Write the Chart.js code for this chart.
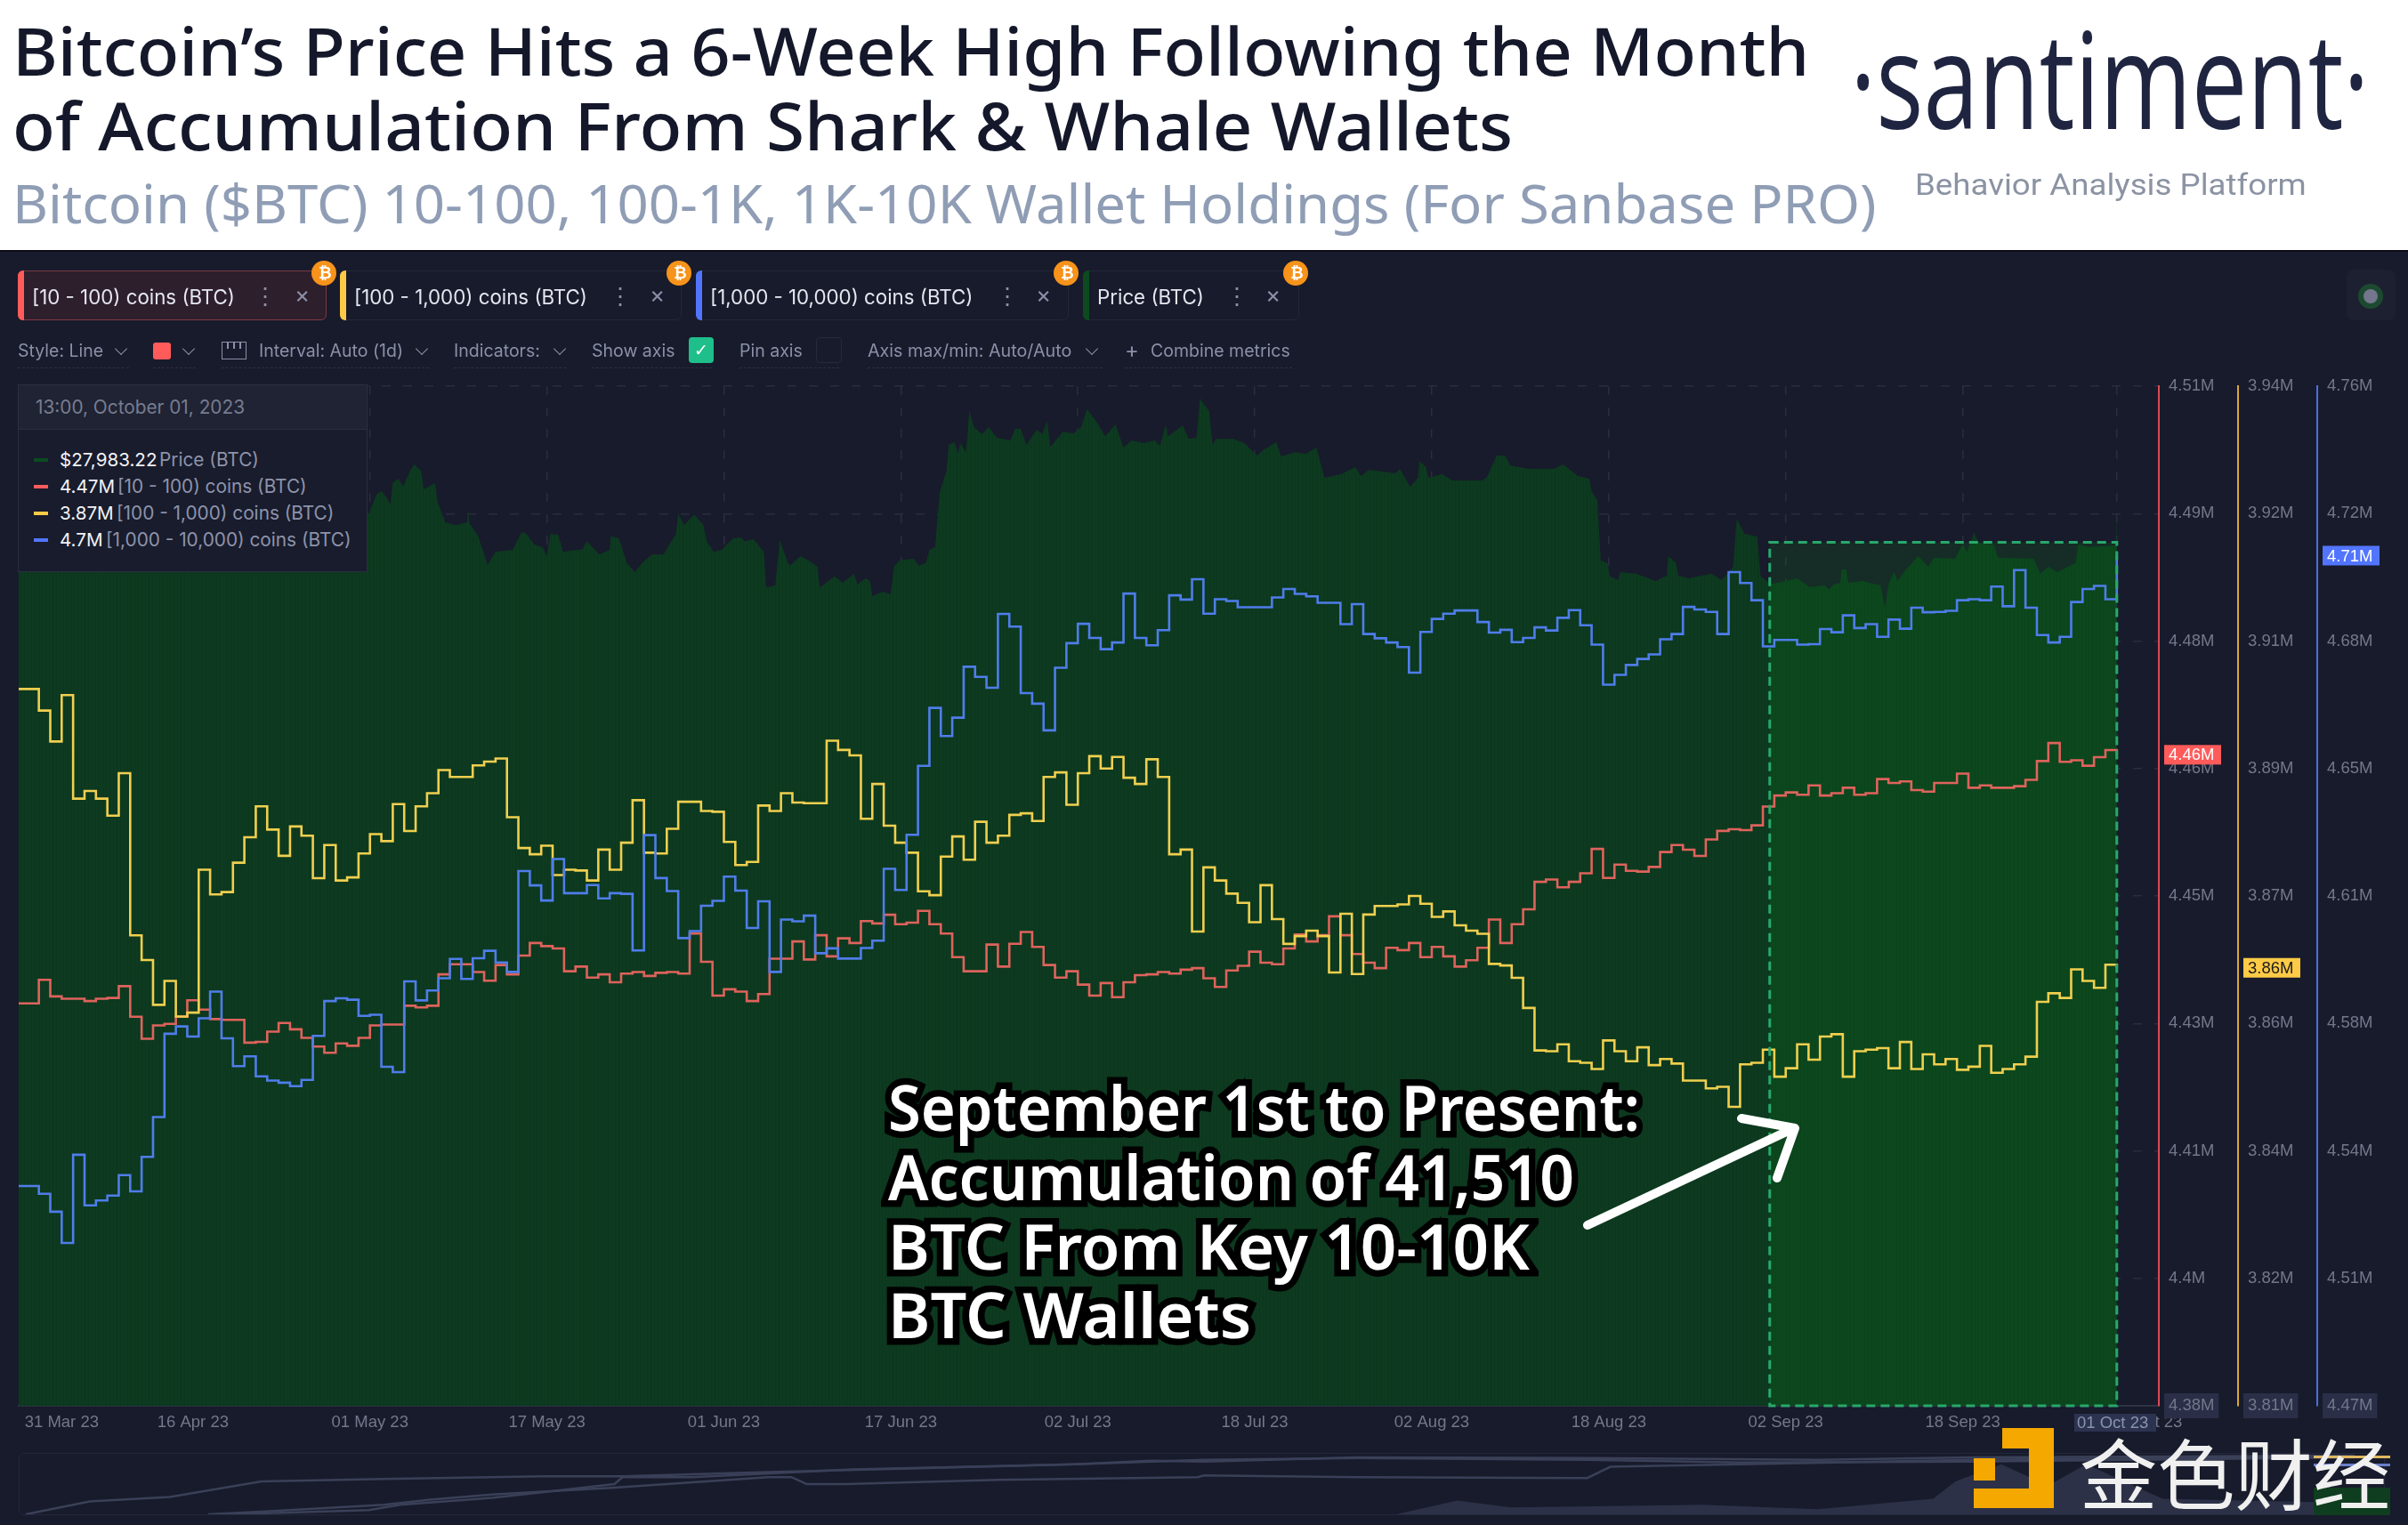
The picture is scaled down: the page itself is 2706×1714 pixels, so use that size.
<!DOCTYPE html>
<html>
<head>
<meta charset="utf-8">
<title>Bitcoin wallet holdings</title>
<script src="https://cdn.jsdelivr.net/npm/chart.js@4/dist/chart.umd.min.js"></script>
<style>
  html, body { margin: 0; padding: 0; background: #fff; }
  #page { position: relative; width: 2706px; height: 1714px; overflow: hidden; background: #fff; }
  #dark { position: absolute; left: 0; top: 281px; width: 2706px; height: 1433px; background: #181b2b; border-top: 2px solid #0c0d14; box-sizing: border-box; }
  #main { position: absolute; left: 0; top: 0; z-index: 1; }
  #miniBox { position: absolute; left: 21px; top: 1633px; width: 2659px; height: 70px; border: 1px solid #23273a; border-radius: 6px; box-sizing: border-box; z-index: 1; }
  .t { position: absolute; white-space: nowrap; z-index: 3; font-family: Inter, sans-serif; transform-origin: left center; line-height: 1; }
  .box { position: absolute; z-index: 2; box-sizing: border-box; }
  svg { position: absolute; left: 0; top: 0; z-index: 4; }
</style>
</head>
<body>
<div id="page">
  <div id="dark"></div>
  <canvas id="main" width="2706" height="1714"></canvas>
  <div id="miniBox"><canvas id="mini" width="2657" height="68"></canvas></div>
  <svg width="2706" height="1714">
    <path d="M1784 1377 L2016 1268 M1957 1257 L2017 1268 L1997 1324" fill="none" stroke="#fff" stroke-width="10" stroke-linecap="round" stroke-linejoin="round"/>
  </svg>
</div>
<script>
// holdings in thousands of coins, one value per day from 31 Mar 23 to 01 Oct 23
const red = [
  4431.3,4431.3,4434.3,4432.2,4431.9,4431.9,4431.6,4431.9,4432.0,4433.5,
  4429.6,4426.8,4428.5,4428.7,4429.6,4431.7,4430.5,4429.3,4429.2,4429.2,
  4426.3,4426.4,4427.7,4428.8,4428.0,4426.9,4425.8,4425.0,4426.2,4425.9,
  4426.9,4428.5,4428.6,4428.6,4431.0,4430.8,4431.0,4435.0,4436.3,4436.3,
  4435.3,4434.2,4436.2,4435.0,4437.4,4439.0,4438.6,4438.3,4435.4,4436.0,
  4434.6,4435.0,4434.0,4435.1,4435.3,4434.8,4435.2,4435.3,4435.1,4440.2,
  4436.6,4432.3,4433.1,4432.8,4431.6,4432.5,4437.0,4437.0,4439.2,
  4436.9,4440.0,4437.3,4439.6,4439.0,4441.8,4441.5,4442.6,4441.4,4441.6,
  4443.1,4441.4,4440.2,4437.2,4435.4,4435.4,4438.8,4436.0,4438.9,4440.4,
  4438.5,4436.2,4434.6,4435.4,4433.7,4432.3,4433.9,4432.1,4434.0,4434.9,
  4435.0,4435.3,4435.1,4435.6,4435.8,4434.5,4433.4,4435.5,4436.1,4437.9,
  4436.5,4436.3,4438.3,4440.1,4439.2,4440.0,4442.4,4440.0,4437.6,4436.5,
  4435.8,4438.4,4438.1,4439.0,4437.2,4438.5,4437.3,4436.0,4436.8,4438.4,
  4442.0,4439.0,4441.4,4443.3,4446.8,4447.1,4446.1,4446.8,4447.9,4451.0,
  4447.3,4449.0,4448.2,4448.1,4448.7,4450.6,4451.5,4450.9,4450.1,4452.2,
  4453.3,4453.5,4453.4,4454.0,4456.4,4457.8,4458.2,4457.9,4459.1,4457.8,
  4458.1,4458.8,4457.9,4458.1,4459.9,4459.4,4459.6,4458.5,4458.3,4459.4,
  4459.4,4460.6,4458.8,4459.1,4458.8,4458.8,4459.0,4459.8,4462.2,4464.5,
  4462.1,4462.3,4461.6,4462.7,4463.6,4463.0
];
const yellow = [
  3900.8,3900.8,3898.0,3894.0,3900.0,3886.6,3887.6,3886.6,3884.4,3889.9,
  3868.9,3865.7,3859.9,3863.0,3858.4,3858.9,3877.4,3874.2,3874.5,3878.3,
  3881.6,3885.6,3882.6,3879.2,3883.0,3881.8,3876.3,3880.6,3876.0,3876.4,
  3879.5,3882.0,3881.1,3885.9,3882.4,3885.6,3887.3,3890.3,3889.4,3889.4,
  3890.9,3891.4,3891.8,3884.2,3880.2,3879.4,3880.5,3876.7,3877.4,3877.3,
  3876.0,3880.0,3877.4,3880.9,3886.4,3879.6,3879.5,3882.7,3886.2,3886.2,
  3885.0,3884.9,3881.0,3878.0,3878.4,3885.7,3885.0,3887.3,3886.1,
  3886.0,3886.0,3894.1,3892.9,3892.2,3884.0,3888.5,3883.1,3880.9,3879.6,
  3874.6,3874.1,3879.1,3881.7,3878.7,3883.6,3880.9,3881.8,3884.5,3884.7,
  3883.7,3889.4,3890.0,3885.8,3889.9,3892.1,3890.5,3892.0,3889.3,3888.5,
  3891.7,3889.4,3879.4,3880.0,3869.4,3877.7,3876.0,3874.3,3873.1,3870.6,
  3875.4,3871.0,3867.8,3868.8,3869.5,3868.8,3864.1,3871.7,3863.9,3871.6,
  3872.7,3872.7,3872.9,3874.0,3873.0,3871.3,3872.0,3870.2,3869.5,3869.1,
  3865.2,3865.0,3863.4,3859.5,3854.0,3853.9,3854.8,3852.6,3852.4,3851.6,
  3855.3,3853.9,3852.6,3854.4,3852.1,3852.9,3852.3,3850.1,3850.1,3849.1,
  3849.3,3846.7,3852.2,3852.4,3854.1,3850.6,3851.7,3854.8,3852.8,3855.8,
  3856.1,3850.6,3853.9,3854.1,3854.3,3851.7,3855.1,3851.6,3853.5,3852.2,
  3852.9,3851.5,3851.9,3854.6,3851.1,3851.6,3852.2,3853.2,3860.3,3861.4,
  3860.8,3864.5,3863.0,3862.1,3865.1,3864.7
];
const blue = [
  4532.5,4532.5,4530.3,4525.2,4516.3,4541.4,4527.0,4528.4,4529.8,4535.6,
  4531.0,4540.8,4552.1,4575.8,4577.9,4575.0,4580.2,4587.8,4574.5,4566.6,
  4569.4,4563.7,4562.5,4561.9,4560.9,4562.7,4575.2,4585.1,4585.9,4585.5,
  4580.9,4581.2,4566.4,4564.9,4590.7,4585.3,4588.1,4591.6,4597.1,4591.4,
  4597.3,4599.4,4596.1,4593.4,4622.1,4618.0,4613.7,4625.5,4615.8,4615.8,
  4618.1,4614.3,4615.8,4615.6,4599.5,4632.3,4620.1,4616.4,4603.0,4605.0,
  4612.2,4613.6,4620.5,4616.5,4605.9,4613.5,4593.4,4608.3,4607.8,
  4609.4,4598.7,4600.1,4597.2,4597.2,4600.2,4602.3,4622.7,4616.7,4632.4,
  4652.0,4668.5,4660.5,4665.7,4680.2,4677.3,4674.2,4695.2,4691.6,4672.7,
  4669.7,4662.1,4679.9,4686.9,4692.4,4688.4,4685.2,4687.1,4701.0,4688.4,
  4686.3,4690.6,4700.5,4699.3,4705.1,4695.3,4699.4,4698.9,4697.1,4697.1,
  4697.1,4699.9,4702.3,4700.9,4700.2,4698.4,4698.4,4692.3,4698.0,4689.5,
  4688.3,4687.1,4685.8,4678.5,4690.1,4693.8,4695.3,4696.2,4696.2,4692.9,
  4689.9,4690.7,4687.2,4688.4,4691.4,4690.5,4694.1,4696.3,4692.0,4686.5,
  4675.1,4677.9,4680.7,4682.4,4683.7,4688.0,4689.5,4697.2,4696.5,4695.8,
  4689.5,4707.1,4704.0,4699.1,4686.0,4687.8,4687.8,4686.5,4686.6,4690.9,
  4690.0,4694.8,4691.2,4692.3,4688.7,4693.6,4691.0,4697.0,4695.7,4695.8,
  4696.1,4699.1,4699.4,4699.1,4703.0,4697.4,4707.7,4697.0,4689.2,4687.1,
  4688.7,4698.6,4702.3,4703.2,4699.4,4711.8
];

// price outline, day number since 31 Mar 23 and dollars
const priceDays = [
  0.2,14.2,29.8,30.9,31.6,32.0,32.4,32.8,33.0,33.5,33.9,34.6,34.9,35.5,35.7,36.7,36.9,37.6,38.5,39.5,
  39.6,39.7,40.5,41.3,42.0,43.5,44.3,44.7,45.4,46.1,46.5,46.8,47.5,47.9,49.6,50.0,51.1,52.0,52.1,52.8,
  53.5,54.2,54.9,55.7,56.7,57.8,58.0,58.5,59.4,60.2,60.5,61.1,61.8,62.8,63.5,63.8,64.6,65.5,65.7,66.5,
  66.9,67.6,67.8,68.7,69.4,70.2,70.4,71.7,72.4,73.4,73.7,74.4,74.8,75.0,75.9,76.6,76.9,77.4,78.6,79.1,
  79.7,80.0,80.5,80.9,81.5,81.7,82.2,82.5,82.7,83.2,83.5,83.9,84.6,85.2,85.9,87.1,87.5,88.0,88.5,89.4,
  89.9,90.3,90.6,91.7,92.6,93.3,93.8,94.7,95.4,96.3,97.0,97.7,98.8,99.7,100.2,100.7,100.9,102.2,102.7,103.4,
  103.7,103.8,104.5,104.8,105.1,106.6,107.6,108.7,109.3,110.4,110.8,112.0,113.0,113.9,114.6,116.1,117.3,117.8,118.5,120.8,
  121.2,122.1,122.8,122.9,123.5,123.7,124.9,125.8,128.4,128.8,129.7,130.4,130.9,132.5,134.7,135.5,136.8,137.8,138.0,138.5,
  138.8,139.4,139.6,140.3,140.5,141.9,143.6,144.6,144.7,145.4,145.6,146.5,148.5,149.4,150.4,150.7,151.4,152.5,152.8,153.7,
  156.0,157.1,158.4,158.8,159.2,159.8,159.9,160.3,160.5,161.7,163.3,163.7,164.0,164.5,164.8,165.4,166.6,167.5,168.0,169.8,
  170.5,170.9,171.5,171.9,173.2,173.6,176.7,177.3,178.0,178.8,180.4,180.6,181.5,183.9,184.0
];
const priceValues = [
  27320,27580,27720,27930,28520,28600,28440,28200,28860,28970,28730,29270,29400,29190,28650,28840,28300,27660,27580,27660,
  28060,27640,27240,26380,26780,26840,27370,27320,27000,26920,26650,27320,27290,26780,26860,27100,26700,26840,27260,27180,
  26440,26170,26460,26700,26700,27320,27930,27580,27900,27580,27100,26780,26840,27180,27210,27100,27160,26780,25710,25770,
  27130,26440,26360,26650,26520,26330,25710,26040,25850,26120,25800,25980,25900,25450,25580,25500,26330,26520,26570,26360,
  26440,26840,26920,28570,29190,29990,30070,29720,30040,29770,31000,30520,30310,30520,30200,30120,30470,30470,29990,30440,
  30310,30710,29930,30390,30330,30520,31060,30650,30250,30600,29910,30120,30040,30120,29960,30600,30250,30570,30170,30200,
  31400,31320,31000,29990,30170,30170,30040,29670,29850,30070,29640,29770,29720,29910,29000,29110,29320,29050,29240,29130,
  29270,28730,29000,29510,29320,29000,29110,28920,28920,29000,29670,29670,29370,29270,29270,29400,29050,28970,28600,28330,
  26520,26440,26040,25930,26170,26120,25900,26060,26650,26440,26060,25980,26120,25930,26330,27770,27320,27240,26040,25800,
  25980,25720,25770,25640,25800,25850,26250,26250,25850,25900,25770,25100,25800,26170,25900,26190,26650,26330,26600,26570,
  27000,26780,27370,27050,27000,26600,26570,26120,26330,26170,26440,27000,26920,26970,27983
];

const xTickDays = [4,15.5,31,46.5,62,77.5,93,108.5,124,139.5,155,170.5,184,186.6];
const xTickLabels = ['31 Mar 23','16 Apr 23','01 May 23','17 May 23','01 Jun 23','17 Jun 23','02 Jul 23','18 Jul 23','02 Aug 23','18 Aug 23','02 Sep 23','18 Sep 23','','03 Oct 23'];
const redTicks = ['4.38M','4.4M','4.41M','4.43M','4.45M','4.46M','4.48M','4.49M','4.51M'];
const yellowTicks = ['3.81M','3.82M','3.84M','3.86M','3.87M','3.89M','3.91M','3.92M','3.94M'];
const blueTicks = ['4.47M','4.51M','4.54M','4.58M','4.61M','4.65M','4.68M','4.72M','4.76M'];

// navigator strip at the bottom
const miniTimeA = [28,100,190,293,431,610,700,863,1208,1294,1353,1526,1784,2043,2216,2647];
const miniLevelA = [0,15,20,38,41,44,44,49,58,62,61,66,65,63,66,68];
const miniTimeB = [233,293,431,483,552,690,863,889,906,950,1122,1346,1353,1526,1784,1810,1957,2216,2647];
const miniLevelB = [0,3,11,17,23,31,43,43,35,35,40,43,45,43,42,55,58,63,67];
const miniTimeC = [259,414,449,552,604,690,699,777,958,1208,1294,1353,1526,1784,1957,2216,2647];
const miniLevelC = [0,5,11,19,25,35,43,43,52,58,61,63,65,63,60,61,66];
const miniTimePrice = [1500,1569,1638,1698,1914,2043,2173,2198,2250,2302,2345,2431,2647,2680];
const miniLevelPrice = [0,0,16,8,11,6,18,38,58,33,58,18,13,13];

const gridColor = '#2a2d3e';
const tickColor = '#73778a';
const tickFont = { family: '"Liberation Sans", Arial, sans-serif', size: 18.5 };

function daily(values) {
  return values.map((v, i) => ({ x: i, y: v }));
}
function zip(xs, ys) {
  return xs.map((x, i) => ({ x: x, y: ys[i] }));
}

function stripes() {
  const c = document.createElement('canvas');
  c.width = 4;
  c.height = 1;
  const g = c.getContext('2d');
  g.fillStyle = '#0d3a20';
  g.fillRect(0, 0, 4, 1);
  g.fillStyle = '#0b371c';
  g.fillRect(3, 0, 1, 1);
  return g.createPattern(c, 'repeat');
}

function holdingAxis(min, max, labels, weight, color, width, withGrid) {
  const step = (max - min) / 8;
  return {
    type: 'linear',
    position: 'right',
    weight: weight,
    min: min,
    max: max,
    afterBuildTicks: (scale) => {
      scale.ticks = labels.map((l, i) => ({ value: min + step * i }));
    },
    afterFit: (scale) => { scale.width = width; },
    border: { color: color, width: 2, dash: [10, 14] },
    grid: { display: withGrid, color: gridColor, lineWidth: 1.5, drawTicks: false },
    ticks: {
      color: tickColor,
      font: tickFont,
      padding: 11,
      callback: (v, i) => labels[i],
      showLabelBackdrop: (ctx) => ctx.index === 0,
      backdropColor: '#2a2e47',
      backdropPadding: { left: 5, right: 5, top: 3, bottom: 3 }
    }
  };
}

// brighter band for September, painted over the price area but under the lines
const highlightPlugin = {
  id: 'highlight',
  afterDatasetDraw(chart, args) {
    if (args.index !== 3) return;
    const left = chart.scales.x.getPixelForValue(153.6);
    const right = chart.scales.x.getPixelForValue(184);
    const top = chart.scales.yRed.getPixelForValue(4490.1);
    const bottom = chart.chartArea.bottom;
    const ctx = chart.ctx;
    ctx.save();
    ctx.fillStyle = 'rgba(10,130,20,0.19)';
    ctx.fillRect(left, top, right - left, bottom - top);
    ctx.restore();
  },
  afterDatasetsDraw(chart) {
    const left = chart.scales.x.getPixelForValue(153.6);
    const right = chart.scales.x.getPixelForValue(184);
    const top = chart.scales.yRed.getPixelForValue(4490.1);
    const bottom = chart.chartArea.bottom;
    const ctx = chart.ctx;
    ctx.save();
    ctx.strokeStyle = '#29a86c';
    ctx.lineWidth = 3;
    ctx.setLineDash([10, 6]);
    ctx.strokeRect(left, top, right - left, bottom - top);
    ctx.restore();
  }
};

// value tags at the last point of every series
const lastTagPlugin = {
  id: 'lastTag',
  afterDraw(chart) {
    const tags = [
      { scale: 'yRed', value: red[red.length - 1], text: '4.46M', bg: '#ff5b5b', fg: '#fff' },
      { scale: 'yYellow', value: yellow[yellow.length - 1], text: '3.86M', bg: '#ffcb47', fg: '#1a1a1a' },
      { scale: 'yBlue', value: blue[blue.length - 1], text: '4.71M', bg: '#5275ff', fg: '#fff' }
    ];
    const ctx = chart.ctx;
    ctx.save();
    tags.forEach((t) => {
      const s = chart.scales[t.scale];
      const y = s.getPixelForValue(t.value);
      ctx.fillStyle = t.bg;
      ctx.fillRect(s.left + 6, y - 11, 64, 22);
      ctx.fillStyle = t.fg;
      ctx.font = '18.5px "Liberation Sans", Arial, sans-serif';
      ctx.textAlign = 'left';
      ctx.textBaseline = 'middle';
      ctx.fillText(t.text, s.left + 11, y + 1);
    });
    ctx.restore();
  }
};

new Chart(document.getElementById('main'), {
  type: 'line',
  data: {
    datasets: [
      { data: daily(blue), yAxisID: 'yBlue', borderColor: '#4f7dea', order: 1 },
      { data: daily(yellow), yAxisID: 'yYellow', borderColor: '#f0cf4f', order: 2 },
      { data: daily(red), yAxisID: 'yRed', borderColor: '#de635c', order: 3 },
      { data: zip(priceDays, priceValues), yAxisID: 'yPrice', borderWidth: 0, stepped: false, fill: 'start', backgroundColor: stripes(), order: 4 }
    ]
  },
  options: {
    responsive: false,
    animation: false,
    events: [],
    layout: { padding: { left: 21, top: 434, right: 0, bottom: 0 } },
    plugins: { legend: { display: false }, tooltip: { enabled: false } },
    elements: {
      point: { radius: 0 },
      line: { borderWidth: 2.6, stepped: true, tension: 0, borderJoinStyle: 'miter' }
    },
    scales: {
      x: {
        type: 'linear',
        min: 0.234,
        max: 187.68,
        afterBuildTicks: (scale) => {
          scale.ticks = xTickDays.map((d) => ({ value: d }));
        },
        afterFit: (scale) => { scale.height = 134; },
        border: { color: '#2d3344', width: 2, dash: [10, 14] },
        grid: {
          color: (ctx) => (ctx.index === 0 || ctx.index === xTickDays.length - 1 ? 'transparent' : gridColor),
          lineWidth: 1.5,
          drawTicks: false
        },
        ticks: {
          color: tickColor,
          font: tickFont,
          padding: 8,
          maxRotation: 0,
          autoSkip: false,
          callback: (v, i) => xTickLabels[i]
        }
      },
      yRed: holdingAxis(4380, 4510, redTicks, 1, '#dc4a55', 89, true),
      yYellow: holdingAxis(3808, 3940, yellowTicks, 2, '#d9a63a', 89, false),
      yBlue: holdingAxis(4470, 4760, blueTicks, 3, '#4a6fe0', 102, false),
      yPrice: { type: 'linear', display: false, min: 1150, max: 31750 }
    }
  },
  plugins: [highlightPlugin, lastTagPlugin]
});

new Chart(document.getElementById('mini'), {
  type: 'line',
  data: {
    datasets: [
      { data: zip(miniTimeA, miniLevelA), borderColor: '#3a4058', order: 1 },
      { data: zip(miniTimeB, miniLevelB), borderColor: '#3a4058', order: 2 },
      { data: zip(miniTimeC, miniLevelC), borderColor: '#3a4058', order: 3 },
      { data: zip(miniTimePrice, miniLevelPrice), borderWidth: 0, fill: 'start', backgroundColor: '#2c3148', order: 4 }
    ]
  },
  options: {
    responsive: false,
    animation: false,
    events: [],
    plugins: { legend: { display: false }, tooltip: { enabled: false } },
    elements: { point: { radius: 0 }, line: { borderWidth: 2.5, tension: 0 } },
    scales: {
      x: { type: 'linear', display: false, min: 21, max: 2680 },
      y: { type: 'linear', display: false, min: 0, max: 70 }
    }
  }
});

// page furniture around the chart
const page = document.getElementById('page');

function text(str, x, yc, size, color, extra) {
  const el = document.createElement('div');
  el.className = 't';
  el.textContent = str;
  el.style.left = x + 'px';
  el.style.fontSize = size + 'px';
  el.style.color = color;
  Object.assign(el.style, extra || {});
  page.appendChild(el);
  el.style.top = (yc - el.offsetHeight / 2) + 'px';
  if (extra && extra.fit) {
    el.style.transform = 'scaleX(' + (extra.fit / el.offsetWidth) + ')';
  }
  return el;
}
function box(x, y, w, h, css) {
  const el = document.createElement('div');
  el.className = 'box';
  el.style.left = x + 'px';
  el.style.top = y + 'px';
  el.style.width = w + 'px';
  el.style.height = h + 'px';
  Object.assign(el.style, css || {});
  page.appendChild(el);
  return el;
}
function chevron(x, yc) {
  box(x - 5, yc - 8, 10, 10, { borderRight: '1.5px solid #8b90a8', borderBottom: '1.5px solid #8b90a8', transform: 'rotate(45deg)', zIndex: 3 });
}

// header
const headFont = { fontFamily: '"Noto Sans", sans-serif' };
text('Bitcoin\u2019s Price Hits a 6-Week High Following the Month', 14, 57, 74, '#14182a', { ...headFont, fontWeight: 500, fit: 2019 });
text('of Accumulation From Shark & Whale Wallets', 14, 141, 74, '#14182a', { ...headFont, fontWeight: 500, fit: 1686 });
text('Bitcoin ($BTC) 10-100, 100-1K, 1K-10K Wallet Holdings (For Sanbase PRO)', 14, 228, 60, '#8f9db5', { ...headFont, fontWeight: 400, fit: 2095 });
text('\u00b7santiment\u00b7', 2079, 87, 150, '#1f2540', { fontFamily: '"Open Sans", sans-serif', fontWeight: 400, fit: 584 });
text('Behavior Analysis Platform', 2152, 207, 34, '#8b93a3', { fontFamily: 'Roboto, sans-serif', fit: 440 });

// metric tabs
const tabs = [
  { label: '[10 - 100) coins (BTC)', x: 20, w: 347, color: '#ff5b5b', dots: 291, close: 339, badge: 364 },
  { label: '[100 - 1,000) coins (BTC)', x: 382, w: 384, color: '#ffcb47', dots: 690, close: 738, badge: 763 },
  { label: '[1,000 - 10,000) coins (BTC)', x: 782, w: 419, color: '#5275ff', dots: 1125, close: 1172, badge: 1198 },
  { label: 'Price (BTC)', x: 1217, w: 243, color: '#0d4a20', dots: 1383, close: 1430, badge: 1456 }
];
tabs.forEach((tab, i) => {
  box(tab.x, 304, tab.w, 56, {
    background: i === 0 ? '#2e1f2c' : '#181b2b',
    border: '1.5px solid ' + (i === 0 ? '#7a3a42' : '#23273a'),
    borderRadius: '6px'
  });
  box(tab.x, 304, 7, 56, { background: tab.color, borderRadius: '6px 0 0 6px' });
  text(tab.label, tab.x + 16, 334, 22.3, '#e4e6f0');
  text('\u22ee', tab.dots - 6, 333, 26, '#8b90a8');
  text('\u00d7', tab.close - 8, 331, 26, '#8b90a8');
  box(tab.badge - 14, 293, 28, 28, { background: '#f7931a', borderRadius: '50%' });
  text('\u20bf', tab.badge - 6, 307, 18, '#fff', { fontFamily: '"DejaVu Sans", sans-serif', fontWeight: 700 });
});

// toolbar
const barColor = '#8b90a8';
text('Style: Line', 20, 395, 19.5, barColor);
text('Interval: Auto (1d)', 291, 395, 19.5, barColor);
text('Indicators:', 510, 395, 19.5, barColor);
text('Show axis', 665, 395, 19.5, barColor);
text('Pin axis', 831, 395, 19.5, barColor);
text('Axis max/min: Auto/Auto', 975, 395, 19.7, barColor);
text('+', 1264, 394, 24, barColor);
text('Combine metrics', 1293, 395, 19.5, barColor);
[136, 212, 474, 629, 1227].forEach((x) => chevron(x, 395));
box(172, 385, 20, 19, { background: '#ff5b5b', borderRadius: '3px' });
box(249, 384, 28, 20, { border: '1.5px solid #8b90a8' });
[255, 262, 269].forEach((x) => box(x, 384, 1.5, 8, { background: '#8b90a8' }));
box(774, 379, 28, 29, { background: '#1fbf8b', borderRadius: '4px' });
text('\u2713', 780, 393, 19, '#fff', { fontFamily: '"DejaVu Sans", sans-serif', fontWeight: 700 });
box(917, 379, 29, 29, { border: '1.5px solid #262a3c', borderRadius: '4px' });
[[20, 125], [172, 48], [249, 233], [510, 126], [665, 135], [831, 112], [975, 264], [1264, 188]].forEach((u) => {
  box(u[0], 413, u[1], 0, { borderTop: '1.5px dashed #2c3043' });
});

// status dot on the top right
box(2637, 303, 55, 57, { background: '#1d2031', borderRadius: '8px' });
box(2650, 319, 28, 28, { background: '#1c4a30', borderRadius: '50%' });
box(2656, 325, 16, 16, { background: '#73768d', borderRadius: '50%' });

// hover panel with the readings
box(20, 432, 393, 211, { background: '#181c2c', border: '1.5px solid #2a2e40' });
box(20, 432, 393, 51, { background: '#1f2333', border: '1.5px solid #2a2e40' });
text('13:00, October 01, 2023', 40, 458, 20.8, '#777c90');
const rows = [
  { y: 517, color: '#0d4a20', value: '$27,983.22', name: 'Price (BTC)' },
  { y: 547, color: '#ff5b5b', value: '4.47M', name: '[10 - 100) coins (BTC)' },
  { y: 577, color: '#ffcb47', value: '3.87M', name: '[100 - 1,000) coins (BTC)' },
  { y: 607, color: '#5275ff', value: '4.7M', name: '[1,000 - 10,000) coins (BTC)' }
];
rows.forEach((r) => {
  box(38, r.y - 2, 16, 4, { background: r.color });
  const v = text(r.value, 67, r.y, 20.6, '#f1f2f7');
  text(r.name, 67 + v.offsetWidth + 3, r.y, 20.8, '#8e93ab');
});

// crosshair date on the time axis
box(2331, 1589, 92, 20, { background: '#2c3350', zIndex: 3 });
text('01 Oct 23', 2334, 1599, 18.5, '#8a93ac', { fontFamily: '"Liberation Sans", Arial, sans-serif', zIndex: 4 });

// annotation written on the chart
const noteStyle = { fontFamily: '"Noto Sans", sans-serif', fontWeight: 600, WebkitTextStroke: '15px #000', paintOrder: 'stroke fill', zIndex: 5 };
text('September 1st to Present:', 998, 1244, 70, '#fff', { ...noteStyle, fit: 845 });
text('Accumulation of 41,510', 998, 1322, 70, '#fff', { ...noteStyle, fit: 771 });
text('BTC From Key 10-10K', 998, 1400, 70, '#fff', { ...noteStyle, fit: 721 });
text('BTC Wallets', 998, 1477, 70, '#fff', { ...noteStyle, fit: 408 });

// watermark in the corner
box(2600, 1672, 86, 31, { background: '#0f3d20' });
box(2600, 1636, 86, 3, { background: '#e0b860' });
box(2600, 1645, 86, 3, { background: '#6a7fc8' });
const orange = '#f5a800';
box(2250, 1605, 58, 23, { background: orange, zIndex: 6 });
box(2280, 1605, 28, 90, { background: orange, zIndex: 6 });
box(2218, 1673, 90, 22, { background: orange, zIndex: 6 });
box(2218, 1639, 24, 25, { background: orange, zIndex: 6 });
text('\u91d1\u8272\u8d22\u7ecf', 2337, 1653, 87, '#f0f0f0', { fontFamily: '"Noto Sans CJK SC", sans-serif', fontWeight: 400, fit: 349, zIndex: 6 });
</script>
</body>
</html>
